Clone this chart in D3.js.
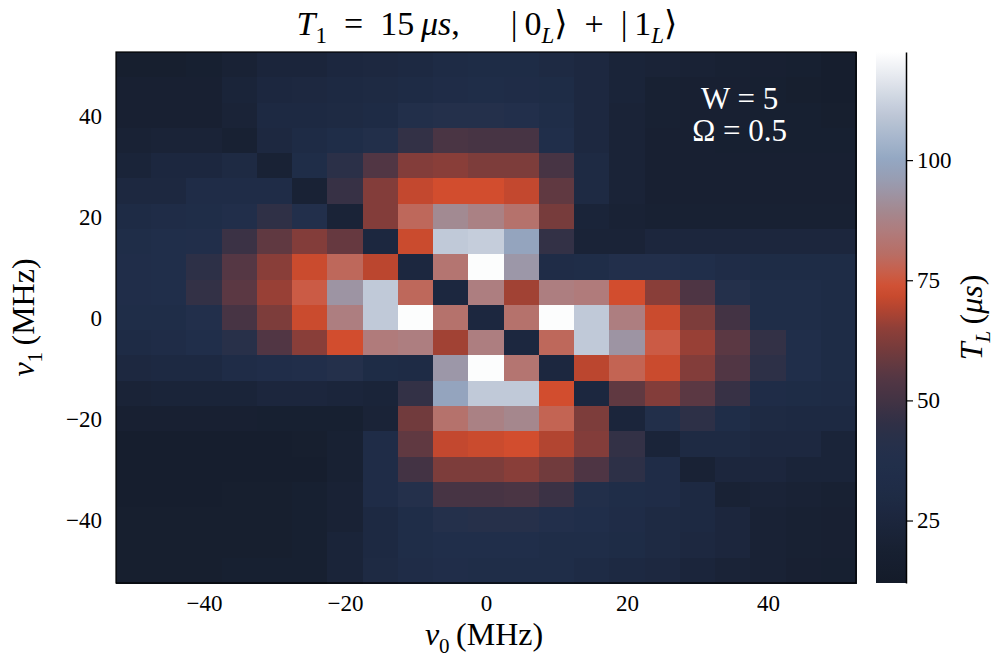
<!DOCTYPE html>
<html>
<head>
<meta charset="utf-8">
<script src="https://cdn.jsdelivr.net/npm/d3@7"></script>
<style>
  body { margin: 0; background: #fff; }
  svg text { font-family: "Liberation Serif", "DejaVu Serif", serif; fill: #000; }
  .tick text { font-size: 23px; }
  .note { fill: #fff; font-size: 31px; }
</style>
</head>
<body>
<div id="chart"></div>
<script>
// detuning grid (MHz), cell centres
const nu0 = [-50,-45,-40,-35,-30,-25,-20,-15,-10,-5,0,5,10,15,20,25,30,35,40,45,50];
const nu1 = [50,45,40,35,30,25,20,15,10,5,0,-5,-10,-15,-20,-25,-30,-35,-40,-45,-50];

// T_L (us), one row per nu1 value (top row first), one entry per nu0 value
const tl = [
  [17,17,18,21,24,24,26,27,28,30,31,31,29,27,23,22,21,20,19,18,16],
  [19,19,19,23,26,27,28,29,30,32,33,32,31,27,23,20,19,19,18,17,16],
  [19,19,19,22,28,28,29,30,37,40,40,38,33,27,22,20,19,19,18,18,17],
  [21,22,22,20,27,30,33,37,46,52,51,51,35,27,22,19,19,18,18,18,18],
  [23,26,26,29,21,33,43,54,63,64,62,62,51,29,22,19,19,19,19,19,19],
  [27,27,32,32,32,21,47,63,71,73,73,71,57,29,22,19,19,19,19,19,19],
  [30,32,33,36,45,38,22,63,79,90,87,82,61,23,21,20,20,20,20,20,20],
  [33,35,36,48,57,63,58,26,72,110,111,99,46,22,22,25,25,25,25,25,25],
  [34,35,44,55,64,72,79,70,26,83,122,94,32,33,38,38,35,32,31,31,31],
  [34,35,46,56,66,76,93,110,79,26,86,67,86,85,73,64,53,40,33,33,31],
  [33,33,38,51,62,72,86,110,122,82,26,82,122,110,86,72,62,50,33,33,31],
  [30,32,35,42,54,64,73,85,86,67,86,26,79,110,93,76,66,56,46,35,31],
  [27,28,28,32,34,36,40,31,30,94,122,83,26,70,78,72,63,54,44,35,31],
  [22,23,23,23,25,25,24,23,46,99,110,110,73,26,57,63,56,47,32,31,30],
  [19,19,19,19,18,18,18,22,60,82,87,89,78,62,24,37,44,33,29,28,28],
  [16,16,16,16,16,17,20,32,57,71,72,73,69,63,46,23,29,29,27,27,23],
  [16,16,16,16,16,16,20,32,50,62,62,64,60,53,44,32,21,25,25,23,23],
  [16,16,16,17,17,18,21,32,40,51,51,52,48,37,33,32,28,21,22,21,20],
  [17,17,17,17,17,18,21,28,33,40,41,41,38,35,32,29,28,25,21,20,19],
  [17,17,17,17,17,18,23,28,33,35,35,35,33,33,31,29,27,25,21,20,19],
  [17,17,17,18,18,18,23,29,32,34,33,33,33,30,28,27,24,22,21,19,18]
];

const xTicks = [-40,-20,0,20,40];
const yTicks = [-40,-20,0,20,40];
const cbarTicks = [25,50,75,100];
const cbarRange = [12,122.5];

// colour map: value -> colour
const cmapStops = [12,20,25,30,35,40,45,50,55,60,65,70,73,77,80,85,90,95,100,110,122.5];
const cmapColors = ["#141b29","#182133","#1c263d","#1e2b45","#202e4a","#24304b","#2f3046","#433344",
  "#553744","#713b3d","#8f3f38","#bb462f","#d24d2e","#c8604c","#b96c62","#b07b7b","#a28a92",
  "#9a9aae","#92a7c2","#c0c9d8","#ffffff"];

function renderChart(){
  let total_width = 998, total_height = 657;
  let plot = {left:116, right:856, top:52, bottom:583};
  let cbar = {left:876, right:906};

  let svg = d3.select("#chart").append("svg")
    .attr("width", total_width)
    .attr("height", total_height);

  let x = d3.scaleLinear().domain([-52.5,52.5]).range([plot.left, plot.right]);
  let y = d3.scaleLinear().domain([-52.5,52.5]).range([plot.bottom, plot.top]);
  let color = d3.scaleLinear().domain(cmapStops).range(cmapColors).clamp(true);
  let step = 5;

  let cells = [];
  tl.forEach((row,i)=>row.forEach((v,j)=>cells.push({x:nu0[j], y:nu1[i], v:v})));

  svg.append("g").selectAll("rect").data(cells).enter().append("rect")
    .attr("x", d=>x(d.x-step/2))
    .attr("y", d=>y(d.y+step/2))
    .attr("width", d=>x(d.x+step/2)-x(d.x-step/2)+0.5)
    .attr("height", d=>y(d.y-step/2)-y(d.y+step/2)+0.5)
    .attr("fill", d=>color(d.v))
    .attr("shape-rendering","crispEdges");

  svg.append("rect")
    .attr("x", plot.left).attr("y", plot.top)
    .attr("width", plot.right-plot.left).attr("height", plot.bottom-plot.top)
    .attr("fill","none").attr("stroke","#000").attr("stroke-width",1.2);

  // axes
  let xAxis = svg.append("g")
    .attr("transform","translate(0,"+(plot.bottom+6)+")")
    .call(d3.axisBottom(x).tickValues(xTicks).tickSize(0).tickPadding(6));
  xAxis.select(".domain").remove();

  let yAxis = svg.append("g")
    .attr("transform","translate("+(plot.left-14)+",0)")
    .call(d3.axisLeft(y).tickValues(yTicks).tickSize(0).tickPadding(0));
  yAxis.select(".domain").remove();
  yAxis.selectAll(".tick text").attr("dy","0.35em");

  // colour bar
  let defs = svg.append("defs");
  let grad = defs.append("linearGradient").attr("id","cgrad")
    .attr("x1",0).attr("y1",1).attr("x2",0).attr("y2",0);
  d3.range(0,1.0001,0.02).forEach(t=>{
    let v = cbarRange[0] + t*(cbarRange[1]-cbarRange[0]);
    grad.append("stop").attr("offset",t).attr("stop-color",color(v));
  });
  svg.append("rect")
    .attr("x",cbar.left).attr("y",plot.top)
    .attr("width",cbar.right-cbar.left).attr("height",plot.bottom-plot.top)
    .attr("fill","url(#cgrad)");

  let cy = d3.scaleLinear().domain(cbarRange).range([plot.bottom, plot.top]);
  let cAxis = svg.append("g")
    .attr("transform","translate("+cbar.right+",0)")
    .call(d3.axisRight(cy).tickValues(cbarTicks).tickSize(7).tickPadding(4).tickSizeOuter(0));
  cAxis.select(".domain").attr("stroke-width",1.5);
  cAxis.selectAll(".tick line").attr("stroke-width",1.2);

  // title
  let title = svg.append("text")
    .attr("x", 487).attr("y", 35)
    .attr("text-anchor","middle").attr("font-size",34)
    .attr("xml:space","preserve");
  title.append("tspan").attr("font-style","italic").text("T");
  title.append("tspan").attr("font-size",23).attr("dy",8).text("1");
  title.append("tspan").attr("dy",-8).text("\u2002=\u200215\u2009");
  title.append("tspan").attr("font-style","italic").text("μs");
  title.append("tspan").text(",\u2003\u2002|\u20090");
  title.append("tspan").attr("font-style","italic").attr("font-size",23).attr("dy",8).text("L");
  title.append("tspan").attr("dy",-8).text("⟩\u2002+\u2002|\u20091");
  title.append("tspan").attr("font-style","italic").attr("font-size",23).attr("dy",8).text("L");
  title.append("tspan").attr("dy",-8).text("⟩");

  // x label
  let xl = svg.append("text")
    .attr("x",484).attr("y",645)
    .attr("text-anchor","middle").attr("font-size",32);
  xl.append("tspan").attr("font-style","italic").text("ν");
  xl.append("tspan").attr("font-size",21).attr("dy",8).text("0");
  xl.append("tspan").attr("dy",-8).text("\u2009(MHz)");

  // y label
  let yl = svg.append("text")
    .attr("transform","translate(34,"+((plot.top+plot.bottom)/2)+") rotate(-90)")
    .attr("text-anchor","middle").attr("font-size",32);
  yl.append("tspan").attr("font-style","italic").text("ν");
  yl.append("tspan").attr("font-size",21).attr("dy",8).text("1");
  yl.append("tspan").attr("dy",-8).text("\u2009(MHz)");

  // colour bar label
  let cl = svg.append("text")
    .attr("transform","translate(982,"+((plot.top+plot.bottom)/2)+") rotate(-90)")
    .attr("text-anchor","middle").attr("font-size",32);
  cl.append("tspan").attr("font-style","italic").text("T");
  cl.append("tspan").attr("font-style","italic").attr("font-size",21).attr("dy",8).text("L");
  cl.append("tspan").attr("dy",-8).text("\u2009(");
  cl.append("tspan").attr("font-style","italic").text("μs");
  cl.append("tspan").text(")");

  // parameters
  svg.append("text").attr("class","note")
    .attr("x",x(36)).attr("y",109).attr("text-anchor","middle").text("W = 5");
  svg.append("text").attr("class","note")
    .attr("x",x(36)).attr("y",141).attr("text-anchor","middle").text("Ω = 0.5");
}

renderChart();
</script>
</body>
</html>
